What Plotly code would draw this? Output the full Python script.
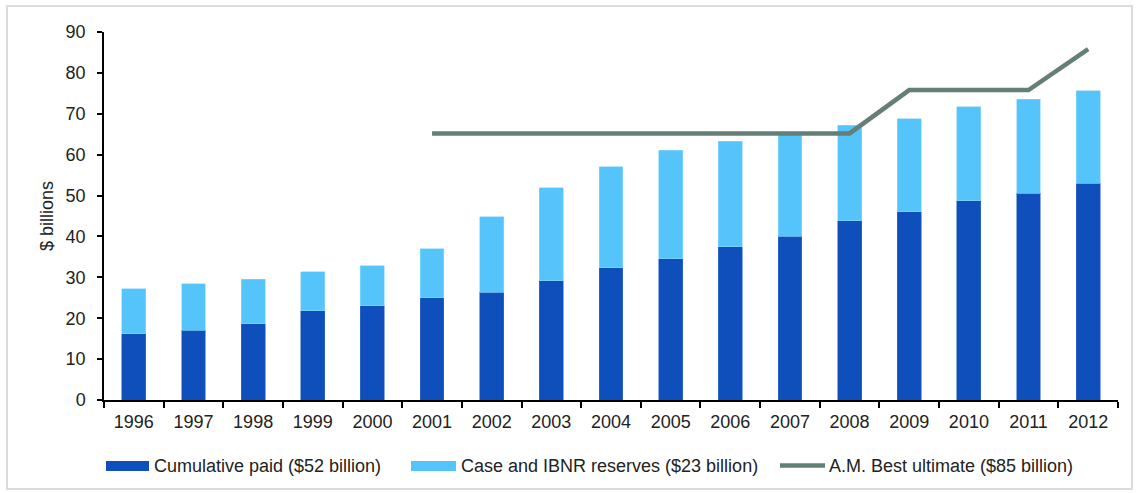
import plotly.graph_objects as go

years = [str(y) for y in range(1996, 2013)]
cumulative_paid = [16.2, 17.1, 18.7, 21.8, 23.1, 25.0, 26.3, 29.2, 32.4, 34.6, 37.5, 40.0, 43.9, 46.1, 48.7, 50.6, 53.0]
total_incurred = [27.2, 28.4, 29.5, 31.4, 32.8, 37.0, 44.8, 51.9, 57.0, 61.1, 63.3, 65.0, 67.2, 68.8, 71.7, 73.6, 75.6]
reserves = [round(t - p, 1) for t, p in zip(total_incurred, cumulative_paid)]
line_years = [str(y) for y in range(2001, 2013)]
am_best_ultimate = [65.2, 65.2, 65.2, 65.2, 65.2, 65.2, 65.2, 65.2, 75.8, 75.8, 75.8, 85.8]

legend_names = ["Cumulative paid ($52 billion)", "Case and IBNR reserves ($23 billion)", "A.M. Best ultimate ($85 billion)"]

DARK = "#0F4FBB"
LIGHT = "#55C4FA"
LINE = "#647E78"
FONT = "Liberation Sans, Arial, sans-serif"
TXT = "#222222"

fig = go.Figure()
fig.add_trace(go.Bar(x=years, y=cumulative_paid, name=legend_names[0], marker=dict(color=DARK, line=dict(color="#3A6FCC", width=0.6)), showlegend=False))
fig.add_trace(go.Bar(x=years, y=reserves, name=legend_names[1], marker=dict(color=LIGHT, line=dict(color="#8ED8FC", width=0.6)), showlegend=False))
fig.add_trace(go.Scatter(x=line_years, y=am_best_ultimate, name=legend_names[2], mode="lines", line=dict(color=LINE, width=4.5), showlegend=False))

L, R, T, B = 104, 21, 32, 93
W, H = 1139, 493
pw, ph = W - L - R, H - T - B

def px(x):
    return (x - L) / pw

def py(y):
    return (H - B - y) / ph

shapes = [
    dict(type="rect", xref="paper", yref="paper", x0=px(7), x1=px(1132), y0=py(489), y1=py(6), line=dict(color="#DCDCDC", width=2), layer="below"),
    dict(type="rect", xref="paper", yref="paper", x0=px(106), x1=px(149), y0=py(471), y1=py(461), fillcolor=DARK, line=dict(width=0)),
    dict(type="rect", xref="paper", yref="paper", x0=px(411), x1=px(456), y0=py(471), y1=py(461), fillcolor=LIGHT, line=dict(width=0)),
    dict(type="line", xref="paper", yref="paper", x0=px(780), x1=px(825), y0=py(465.5), y1=py(465.5), line=dict(color=LINE, width=4.5)),
]
annotations = [
    dict(xref="paper", yref="paper", x=px(152), y=py(466), text=legend_names[0], showarrow=False, xanchor="left", yanchor="middle", font=dict(family=FONT, size=18, color=TXT)),
    dict(xref="paper", yref="paper", x=px(459), y=py(466), text=legend_names[1], showarrow=False, xanchor="left", yanchor="middle", font=dict(family=FONT, size=18, color=TXT)),
    dict(xref="paper", yref="paper", x=px(827), y=py(466), text=legend_names[2], showarrow=False, xanchor="left", yanchor="middle", font=dict(family=FONT, size=18, color=TXT)),
    dict(xref="paper", yref="paper", x=px(47), y=0.5, text="$ billions", textangle=-90, showarrow=False, xanchor="center", yanchor="middle", font=dict(family=FONT, size=18, color=TXT)),
]

fig.update_layout(
    width=W, height=H,
    margin=dict(l=L, r=R, t=T, b=B, pad=0),
    barmode="stack", bargap=0.6,
    plot_bgcolor="white", paper_bgcolor="white",
    font=dict(family=FONT, size=18, color=TXT),
    shapes=shapes, annotations=annotations,
    showlegend=False,
)
fig.update_xaxes(type="category", range=[-0.5, 16.5], showline=True, linecolor="black", linewidth=1.5,
                 ticks="outside", tickson="boundaries", ticklen=6, tickwidth=1.5, tickcolor="black",
                 showgrid=False, tickfont=dict(size=18), ticklabelstandoff=5)
fig.update_yaxes(range=[0, 90], dtick=10, showline=True, linecolor="black", linewidth=1.5,
                 ticks="outside", ticklen=5, tickwidth=1.5, tickcolor="black", showgrid=False,
                 zeroline=False, tickfont=dict(size=18), ticklabelstandoff=8)

fig.write_html("out.html", config={"displayModeBar": False},
               post_script="document.body.style.margin='0';document.body.style.padding='0';")
